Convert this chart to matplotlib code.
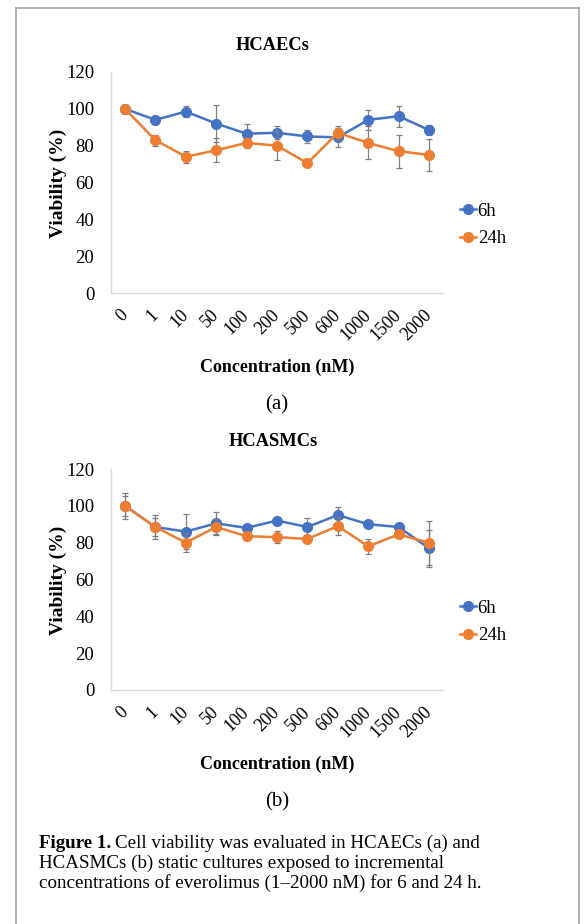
import matplotlib
matplotlib.use('Agg')
import matplotlib.pyplot as plt
from matplotlib.lines import Line2D

plt.rcParams['font.family'] = ['Liberation Serif', 'DejaVu Serif']

concentrations = ['0', '1', '10', '50', '100', '200', '500', '600', '1000', '1500', '2000']

# HCAECs (a)
hcaec_6h = [100, 94, 98.5, 92, 86.5, 87, 85, 84.5, 94, 96, 88.5]
hcaec_6h_err = [2, 2, 3, 10, 5.4, 3.6, 3.5, 5, 5.4, 5.8, 2.5]
hcaec_24h = [100, 83, 74, 77.5, 81.5, 80, 70.5, 87, 81.5, 77, 75]
hcaec_24h_err = [2, 3, 3.3, 6.5, 3, 8, 1, 3.8, 9, 9, 8.5]

# HCASMCs (b)
hcasmc_6h = [100, 88.5, 86, 90.5, 88, 92, 88.5, 95, 90, 88.5, 77]
hcasmc_6h_err = [7, 6.6, 9.4, 6, 1, 1, 5, 4.1, 1, 1.5, 10]
hcasmc_24h = [100, 88.5, 80, 88.5, 83.5, 83, 82, 89, 78, 84.5, 80]
hcasmc_24h_err = [5.3, 4.8, 5, 4.5, 2, 3.4, 1, 5, 4, 1.5, 12]

blue = '#4472C4'
orange = '#ED7D31'
W, H = 584, 924

fig = plt.figure(figsize=(W / 100, H / 100), dpi=100)


def panel(y_bottom, title, s6, e6, s24, e24, letter):
    # y_bottom / y_top in pixels from the top of the image
    y_top = y_bottom - 221
    ax = fig.add_axes([111 / W, 1 - y_bottom / H, 332 / W, 221 / H])
    x = list(range(len(concentrations)))
    ax.errorbar(x, s6, yerr=e6, color=blue, marker='o', markersize=7, lw=1.8,
                ecolor='#7f7f7f', elinewidth=0.9, capsize=2.5, capthick=0.9, label='6h', zorder=3)
    ax.errorbar(x, s24, yerr=e24, color=orange, marker='o', markersize=7, lw=1.8,
                ecolor='#7f7f7f', elinewidth=0.9, capsize=2.5, capthick=0.9, label='24h', zorder=4)
    ax.set_ylim(0, 120)
    ax.set_xlim(-0.46, 10.46)
    ax.set_yticks(range(0, 121, 20))
    ax.set_xticks(x)
    ax.set_xticklabels(concentrations, rotation=45, ha='right', va='center',
                       rotation_mode='anchor')
    ax.tick_params(axis='y', length=0, labelsize=13.5, pad=12)
    ax.tick_params(axis='x', length=0, labelsize=13, pad=14)
    for s in ['top', 'right']:
        ax.spines[s].set_visible(False)
    for s in ['left', 'bottom']:
        ax.spines[s].set_color('#d9d9d9')
        ax.spines[s].set_linewidth(1)
    ax.set_ylabel('Viability (%)', fontsize=14, fontweight='bold', va='center')
    ax.yaxis.set_label_coords(-0.16, 0.498)
    ax.set_xlabel('Concentration (nM)', fontsize=13, fontweight='bold', va='center')
    ax.xaxis.set_label_coords(0.5, -0.335)
    fig.text(273 / W, 1 - (y_top - 27) / H, title, fontsize=13.3, fontweight='bold',
             ha='center', va='center')
    handles = [Line2D([], [], color=blue, marker='o', markersize=7, lw=1.8),
               Line2D([], [], color=orange, marker='o', markersize=7, lw=1.8)]
    fig.legend(handles, ['6h', '24h'], loc='center left',
               bbox_to_anchor=(443 / W, 1 - (y_top + 153) / H), frameon=False,
               fontsize=13.5, handlelength=0.85, handletextpad=0.1, labelspacing=0.55)
    fig.text(277 / W, 1 - (y_bottom + 112) / H, letter, fontsize=15, ha='center', va='center')
    return ax


panel(293, 'HCAECs', hcaec_6h, hcaec_6h_err, hcaec_24h, hcaec_24h_err, '(a)')
panel(690, 'HCASMCs', hcasmc_6h, hcasmc_6h_err, hcasmc_24h, hcasmc_24h_err, '(b)')

# caption
cap_size = 13.7
x0 = 39 / W
t = fig.text(x0, 1 - 843 / H, 'Figure 1.', fontsize=cap_size, fontweight='bold', va='center')
r = fig.canvas.get_renderer()
bb = t.get_window_extent(renderer=r)
fig.text(bb.x1 / W + 4 / W, 1 - 843 / H, 'Cell viability was evaluated in HCAECs (a) and',
         fontsize=cap_size, va='center')
fig.text(x0, 1 - 863 / H, 'HCASMCs (b) static cultures exposed to incremental',
         fontsize=cap_size, va='center')
fig.text(x0, 1 - 883 / H, 'concentrations of everolimus (1\u20132000 nM) for 6 and 24 h.',
         fontsize=cap_size, va='center')

# frame around the figure
fc = '#a6a6a6'
fig.add_artist(Line2D([16 / W, 16 / W], [0, 1 - 8 / H], color=fc, lw=1.2))
fig.add_artist(Line2D([16 / W, 579 / W], [1 - 8 / H, 1 - 8 / H], color=fc, lw=1.2))
fig.add_artist(Line2D([579 / W, 579 / W], [0, 1 - 8 / H], color=fc, lw=1.2))

fig.savefig('out.png', dpi=100)
